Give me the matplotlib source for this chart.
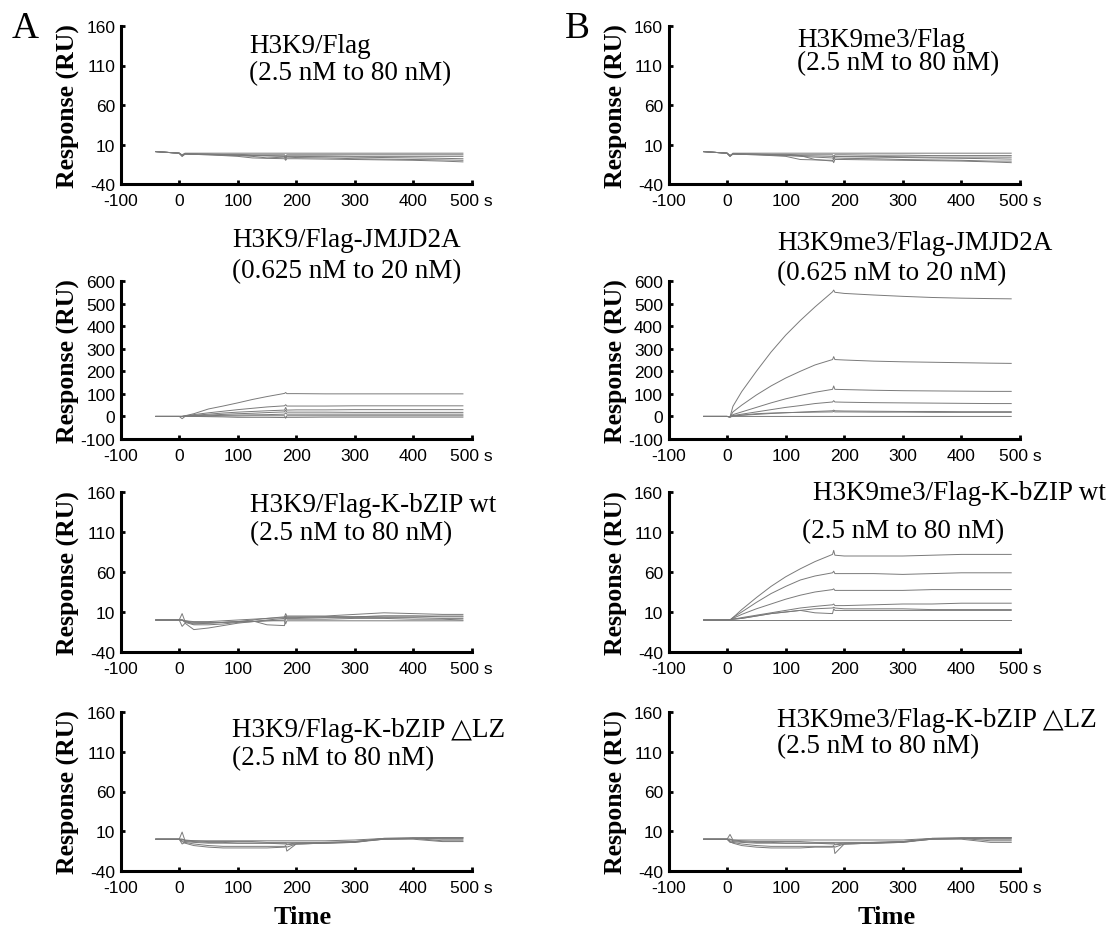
import numpy as np
import matplotlib
matplotlib.use("Agg")
import matplotlib.pyplot as plt

plt.rcParams['axes.unicode_minus'] = False

# time points (s) shared by every sensorgram
t = [-40, 0, 5, 10, 25, 50, 75, 100, 125, 150, 180, 182, 184, 200, 250, 300, 350, 400, 450, 485]

# A: unmodified H3K9
a1_flag = [
    [1, -1, -3, -1, -1, -1, -1, -1, -1, -1, -1, -1, -1, -1, -1, -1, -1, -1, -1, -1],
    [1, -1, -5, -2, -2, -2.5, -3, -3.5, -4, -4.5, -5, -7, -5, -5, -5.5, -6, -6.5, -7, -7.5, -8],
    [1, -1, -5, -2, -2.5, -3, -4, -5, -7, -7.5, -8, -10, -8, -8, -8.5, -9, -9.5, -10, -11, -12],
    [1, -1, -4, -2, -2, -2.5, -3, -3.5, -4, -4, -4.5, -6, -4.5, -4.5, -4.5, -5, -5, -5, -5, -5],
    [1, -1, -4, -1.5, -2, -2, -2.5, -2.5, -3, -3, -3, -5, -3, -3, -3, -3, -3, -3, -3, -3],
    [1, -1, -4, -2, -2.5, -3, -3.5, -4, -5, -7, -6, -9, -6, -6.5, -7, -8, -8.5, -9, -9.5, -10],
]
a2_jmjd2a = [
    [0, 0, 0, 3, 12, 33, 46, 60, 75, 88, 102, 106, 101, 101, 100, 100, 100, 100, 100, 100],
    [0, 0, 0, 2, 8, 16, 23, 30, 36, 42, 47, 52, 46, 46, 46, 47, 47, 47, 47, 47],
    [0, 0, 0, 1, 5, 10, 15, 19, 22, 25, 28, 40, 28, 29, 29, 30, 30, 30, 30, 30],
    [0, 0, 0, 1, 3, 6, 9, 12, 14, 17, 20, 28, 19, 19, 19, 18, 18, 18, 18, 18],
    [0, 0, 0, 0, 2, 3, 5, 6, 7, 8, 10, 16, 10, 10, 10, 10, 10, 10, 10, 10],
    [0, 0, 0, 0, 1, 1, 2, 2, 3, 3, 3, -8, 3, 3, 3, 3, 3, 3, 3, 3],
    [0, 0, -10, 0, 0, -1, -2, -4, -4, -4, -5, -5, -4, -4, -3, -3, -3, -3, -3, -3],
]
a3_kbzip = [
    [0, 0, 8, -2, -5, -4, -3, -2, 0, 2, 4, 8, 5, 5, 5, 7, 9, 8, 7, 7],
    [0, 0, -8, -4, -12, -10, -7, -4, -2, 0, 2, 5, 4, 4, 4, 4, 5, 5, 4, 4],
    [0, 0, 0, -3, -6, -6, -5, -3, -2, -1, 0, 2, 2, 2, 3, 3, 3, 3, 2, 2],
    [0, 0, 0, -2, -4, -4, -3, -2, -1, -6, -7, 4, 1, 1, 1, 2, 2, 1, 1, 0],
    [0, 0, 0, -1, -2, -2, -1, 0, 1, 2, 3, 4, 3, 3, 4, 4, 5, 5, 5, 5],
    [0, 0, 0, -1, -3, -3, -3, -2, -2, -1, -1, -5, -1, -1, -1, -1, -1, -1, -1, -1],
]
a4_dlz = [
    [0, 0, 9, -2, -2, -2, -2, -2, -2, -2, -2, -2, -2, -2, -2, -1, 1, 2, 2, 2],
    [0, 0, -6, -4, -6, -8, -9, -9, -9, -9, -9, -8, -15, -6, -5, -4, 1, 1, 2, 2],
    [0, 0, -3, -5, -8, -10, -11, -11, -11, -11, -10, -9, -10, -6, -5, -4, 0, 0, -3, -3],
    [0, 0, -2, -3, -4, -5, -5, -5, -5, -5, -5, -5, -6, -5, -4, -3, 0, 1, -2, -2],
    [0, 0, 0, -1, -2, -3, -3, -3, -3, -4, -4, -4, -4, -4, -4, -3, 1, 1, 1, 1],
    [0, 0, 0, -2, -3, -4, -4, -5, -5, -5, -6, -6, -7, -6, -5, -3, 0, 1, 0, 0],
]

# B: H3K9me3
b1_flag = [
    [1, -1, -5, -1, -1, -1, -1, -1, -1, -1, -1, -1, -1, -1, -1, -1, -1, -1, -1, -1],
    [1, -1, -5, -2, -2, -2.5, -3, -3.5, -4, -4.5, -5, -7, -5, -5.5, -6, -6.5, -7, -7.5, -8, -8.5],
    [1, -1, -5, -2, -2.5, -3, -4, -5, -9, -9.5, -10, -13, -9, -9, -9.5, -10, -10.5, -11, -12, -13],
    [1, -1, -4, -2, -2, -2.5, -3, -3.5, -4, -9, -11, -8, -5, -5, -5, -5.5, -6, -6, -6, -6],
    [1, -1, -4, -1.5, -2, -2, -2.5, -2.5, -3, -3, -3, -5, -3, -3, -3.5, -3.5, -4, -4, -4, -4],
    [1, -1, -4, -2, -2.5, -3, -3.5, -4, -5, -6, -7, -9, -7, -7.5, -8, -9, -9.5, -10, -11, -11],
]
b2_jmjd2a = [
    [0, 0, -2, 45, 110, 200, 285, 360, 425, 485, 552, 560, 550, 545, 538, 532, 527, 524, 522, 521],
    [0, 0, -2, 20, 50, 95, 135, 170, 200, 228, 252, 265, 252, 250, 245, 242, 240, 238, 236, 235],
    [0, 0, -2, 8, 20, 40, 60, 78, 93, 107, 120, 135, 120, 119, 116, 114, 113, 112, 111, 111],
    [0, 0, -2, 4, 10, 20, 30, 40, 48, 57, 64, 70, 64, 63, 61, 60, 59, 58, 57, 57],
    [0, 0, -2, 2, 5, 9, 13, 16, 19, 22, 25, 28, 25, 24, 23, 22, 22, 21, 21, 21],
    [0, 0, -2, 2, 6, 12, 15, 17, 18, 19, 20, 22, 20, 20, 19, 19, 18, 18, 18, 18],
    [0, 0, -2, 0, 0, 0, 0, 0, 0, 0, 0, 0, 0, 0, 0, 0, 0, 0, 0, 0],
]
b3_kbzip = [
    [0, 0, 0, 3, 13, 28, 42, 54, 64, 73, 82, 87, 81, 80, 80, 80, 81, 82, 82, 82],
    [0, 0, 0, 3, 10, 22, 33, 42, 50, 55, 59, 61, 58, 58, 58, 57, 58, 59, 59, 59],
    [0, 0, 0, 2, 7, 14, 20, 26, 31, 35, 38, 39, 37, 37, 37, 37, 38, 38, 38, 38],
    [0, 0, 0, 1, 3, 6, 9, 12, 15, 17, 19, 20, 18, 18, 19, 20, 20, 21, 21, 21],
    [0, 0, 0, 1, 2, 5, 8, 10, 12, 14, 15, 16, 15, 14, 14, 14, 13, 13, 13, 13],
    [0, 0, 0, 1, 2, 5, 8, 10, 12, 9, 8, 14, 12, 12, 12, 12, 12, 12, 12, 12],
    [0, 0, 0, 0, 0, 0, 0, 0, 0, 0, 0, 0, 0, 0, 0, 0, 0, 0, 0, 0],
]
b4_dlz = [
    [0, 0, 6, -1, -1, -1, -1, -1, -1, -1, -1, -1, -1, -1, -1, -1, 1, 2, 2, 2],
    [0, 0, -4, -4, -6, -8, -9, -9, -9, -9, -9, -8, -18, -6, -5, -4, 1, 1, 2, 2],
    [0, 0, -3, -5, -8, -10, -11, -11, -11, -10, -10, -9, -10, -6, -5, -4, 0, 0, -4, -4],
    [0, 0, -2, -3, -4, -5, -5, -5, -5, -5, -5, -5, -6, -5, -4, -3, 0, 1, -2, -2],
    [0, 0, 0, -1, -2, -3, -3, -3, -3, -4, -4, -4, -4, -4, -4, -3, 1, 1, 1, 1],
    [0, 0, 0, -2, -3, -4, -4, -5, -5, -5, -6, -6, -7, -6, -5, -3, 0, 1, 0, 0],
]

x_ticks = [-100, 0, 100, 200, 300, 400, 500]
x_labels = ["-100", "0", "100", "200", "300", "400", "500 s"]
small_ticks = [-40, 10, 60, 110, 160]
big_ticks = [-100, 0, 100, 200, 300, 400, 500, 600]

W, H = 1119, 929
serif = ["Liberation Serif", "DejaVu Serif"]
sans = ["Liberation Sans", "DejaVu Sans"]

fig = plt.figure(figsize=(W / 100, H / 100), dpi=100)

cols = [(120.7, 471.7), (668.5, 1020)]
rows = [(27, 185), (282, 440), (493, 653), (713, 872)]

panels = [
    [a1_flag, a2_jmjd2a, a3_kbzip, a4_dlz],
    [b1_flag, b2_jmjd2a, b3_kbzip, b4_dlz],
]

# title lines: (text, x px, baseline px)
titles = [
    [
        [("H3K9/Flag", 249, 53), ("(2.5 nM to 80 nM)", 249, 80)],
        [("H3K9/Flag-JMJD2A", 232, 247), ("(0.625 nM to 20 nM)", 232, 278)],
        [("H3K9/Flag-K-bZIP wt", 250, 512), ("(2.5 nM to 80 nM)", 250, 540)],
        [("H3K9/Flag-K-bZIP \u25b3LZ", 232, 737), ("(2.5 nM to 80 nM)", 232, 765)],
    ],
    [
        [("H3K9me3/Flag", 797, 47), ("(2.5 nM to 80 nM)", 797, 70)],
        [("H3K9me3/Flag-JMJD2A", 777, 250), ("(0.625 nM to 20 nM)", 777, 280)],
        [("H3K9me3/Flag-K-bZIP wt", 813, 500), ("(2.5 nM to 80 nM)", 802, 538)],
        [("H3K9me3/Flag-K-bZIP \u25b3LZ", 777, 727), ("(2.5 nM to 80 nM)", 777, 753)],
    ],
]

for c, (x0, x1) in enumerate(cols):
    for r, (y0, y1) in enumerate(rows):
        ax = fig.add_axes([x0 / W, 1 - y1 / H, (x1 - x0) / W, (y1 - y0) / H])
        for curve in panels[c][r]:
            ax.plot(t, curve, color="#7a7a7a", lw=0.7)
        ax.set_xlim(-100, 500)
        ax.set_xticks(x_ticks)
        ax.set_xticklabels(x_labels)
        if r == 1:
            ax.set_ylim(-100, 600)
            ax.set_yticks(big_ticks)
            ax.set_yticklabels([str(v) for v in big_ticks])
        else:
            ax.set_ylim(-40, 160)
            ax.set_yticks(small_ticks)
            ax.set_yticklabels([str(v) for v in small_ticks])
        for s in ["top", "right"]:
            ax.spines[s].set_visible(False)
        for s in ["left", "bottom"]:
            ax.spines[s].set_linewidth(2.2)
        ax.tick_params(direction="in", length=3, width=2, labelsize=12.5)
        ax.tick_params(axis="x", pad=6.5)
        ax.tick_params(axis="y", pad=4)
        for lab in ax.get_xticklabels() + ax.get_yticklabels():
            lab.set_family(sans)
        ax.patch.set_alpha(0)

        fig.text((x0 - 52) / W, 1 - (y0 + y1) / 2 / H, "Response (RU)",
                 rotation=90, ha="center", va="center", family=serif,
                 fontweight="bold", fontsize=18.5)
        for txt, tx, ty in titles[c][r]:
            fig.text(tx / W, 1 - ty / H, txt, ha="left", va="baseline",
                     family=serif, fontsize=19.5)

fig.text(12 / W, 1 - 38 / H, "A", family=serif, fontsize=27, va="baseline")
fig.text(565 / W, 1 - 38 / H, "B", family=serif, fontsize=27, va="baseline")
fig.text(303 / W, 1 - 924 / H, "Time", family=serif, fontweight="bold",
         fontsize=19, ha="center", va="baseline")
fig.text(887 / W, 1 - 924 / H, "Time", family=serif, fontweight="bold",
         fontsize=19, ha="center", va="baseline")

fig.savefig("out.png", dpi=100)
